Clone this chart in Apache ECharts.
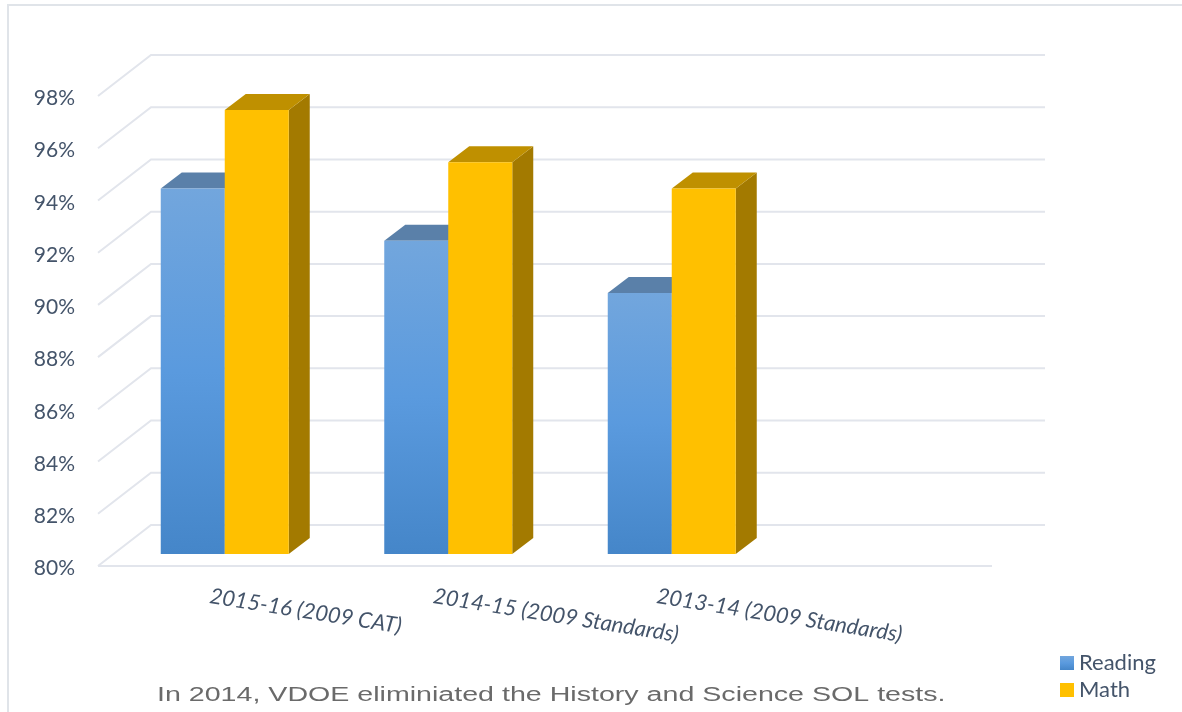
<!DOCTYPE html>
<html>
<head>
<meta charset="utf-8">
<title>SOL pass rates</title>
<script src="https://cdn.jsdelivr.net/npm/echarts@6/dist/echarts.min.js"></script>
<style>
  html, body { margin: 0; padding: 0; background: #fff; }
  #chart { width: 1182px; height: 712px; }
</style>
</head>
<body>
<div id="chart"></div>
<script>
  const categories = ['2015-16 (2009 CAT)', '2014-15 (2009 Standards)', '2013-14 (2009 Standards)', '']
  const reading = [94, 92, 90]
  const math = [97, 95, 94]
  const yTicks = [80, 82, 84, 86, 88, 90, 92, 94, 96, 98]

  const textColor = '#44546a'
  // fake 3d: how far the back wall and the bar depth are shifted, in pixels
  const wall = { dx: 53, dy: -41 }
  const barLift = 12
  const barShift = 15
  const barWidth = 64
  const depth = { dx: 21, dy: -16 }

  const chart = echarts.init(document.getElementById('chart'))

  function gradient(top, mid, bottom) {
    return new echarts.graphic.LinearGradient(0, 0, 0, 1, [
      { offset: 0, color: top },
      { offset: 0.5, color: mid },
      { offset: 1, color: bottom }
    ])
  }

  //one floor/wall line for each tick
  function renderWallLine(params, api) {
    const sys = params.coordSys
    const y = api.coord([0, api.value(1)])[1]
    const points = [
      [sys.x, y],
      [sys.x + wall.dx, y + wall.dy],
      [sys.x + wall.dx + sys.width, y + wall.dy]
    ]
    const children = [{
      type: 'polyline',
      shape: { points },
      style: { stroke: '#e2e5ec', lineWidth: 2, fill: null }
    }]
    if (api.value(1) === yTicks[0]) {
      children.push({
        type: 'line',
        shape: { x1: sys.x, y1: y, x2: sys.x + sys.width, y2: y },
        style: { stroke: '#e2e5ec', lineWidth: 2 }
      })
    }
    return { type: 'group', children }
  }

  //box made of front, top and side faces. side = -1 left of category centre, 0 right of it
  function boxRenderer(side, colors) {
    return function (params, api) {
      const idx = params.dataIndex
      const top = api.coord([idx, api.value(1)])
      const base = api.coord([idx, yTicks[0]])
      const x = top[0] + barShift + side * barWidth
      const y = top[1] - barLift
      const b = base[1] - barLift
      const { dx, dy } = depth
      return {
        type: 'group',
        children: [
          {
            type: 'polygon',
            shape: { points: [[x + barWidth, y], [x + barWidth + dx, y + dy], [x + barWidth + dx, b + dy], [x + barWidth, b]] },
            style: { fill: colors.side }
          },
          {
            type: 'polygon',
            shape: { points: [[x, y], [x + dx, y + dy], [x + barWidth + dx, y + dy], [x + barWidth, y]] },
            style: { fill: colors.top }
          },
          {
            type: 'rect',
            shape: { x, y, width: barWidth, height: b - y },
            style: { fill: colors.front }
          }
        ]
      }
    }
  }

  const readingFront = gradient('#72a6dd', '#5a9ade', '#4586c9')

  chart.setOption({
    animation: false,
    grid: { left: 98, top: 96, width: 894, height: 470 },
    legend: {
      left: 1055,
      top: 647,
      orient: 'vertical',
      itemWidth: 14,
      itemHeight: 14,
      itemGap: 5,
      icon: 'rect',
      selectedMode: false,
      data: ['Reading', 'Math'],
      textStyle: { color: textColor, fontFamily: 'Lato', fontSize: 22 }
    },
    xAxis: {
      type: 'category',
      data: categories,
      axisLine: { show: false },
      axisTick: { show: false },
      axisLabel: {
        rotate: -9,
        interval: 0,
        margin: 30,
        align: 'left',
        color: textColor,
        fontFamily: 'Lato',
        fontStyle: 'italic',
        fontSize: 22
      }
    },
    yAxis: {
      type: 'value',
      min: 80,
      max: 98,
      interval: 2,
      axisLine: { show: false },
      axisTick: { show: false },
      splitLine: { show: false },
      axisLabel: {
        margin: 23,
        formatter: '{v|{value}%}',
        rich: {
          v: {
            padding: [5, 0, 0, 0],
            color: textColor,
            fontFamily: 'Lato',
            fontSize: 21
          }
        }
      }
    },
    graphic: [
      {
        type: 'rect',
        silent: true,
        z: -1,
        shape: { x: 8, y: 5, width: 1300, height: 900 },
        style: { fill: null, stroke: '#e0e4e9', lineWidth: 2 }
      },
      {
        type: 'text',
        x: 157,
        y: 685,
        scaleX: 1.43,
        style: {
          text: 'In 2014, VDOE eliminiated the History and Science SOL tests.',
          fill: '#6a6a6a',
          font: '20px "Liberation Sans"'
        }
      }
    ],
    series: [
      {
        type: 'custom',
        silent: true,
        z: 1,
        data: yTicks.map(v => [0, v]),
        renderItem: renderWallLine
      },
      {
        name: 'Reading',
        type: 'custom',
        z: 2,
        itemStyle: { color: readingFront },
        data: reading.map((v, i) => [i, v]),
        renderItem: boxRenderer(-1, { front: readingFront, top: '#5a80a9', side: '#3f6f9f' })
      },
      {
        name: 'Math',
        type: 'custom',
        z: 3,
        itemStyle: { color: '#ffc000' },
        data: math.map((v, i) => [i, v]),
        renderItem: boxRenderer(0, { front: '#ffc000', top: '#bf9000', side: '#a37a00' })
      }
    ]
  })
</script>
</body>
</html>
